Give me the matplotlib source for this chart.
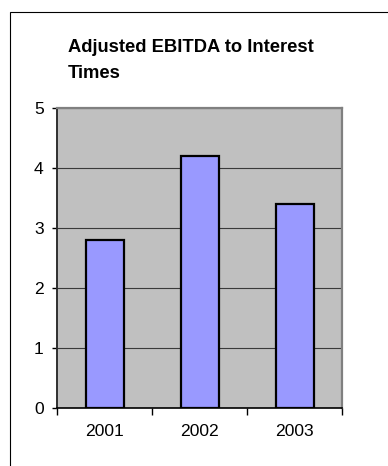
import matplotlib.pyplot as plt
from matplotlib.patches import Rectangle

### chart data
years = ['2001', '2002', '2003']
coverage = [2.8, 4.2, 3.4]
yticks = [0, 1, 2, 3, 4, 5]

plt.rcParams['font.family'] = ['Liberation Sans', 'DejaVu Sans']

fig = plt.figure(figsize=(3.88, 4.66), dpi=100)

### outer chart frame (runs off the right and bottom edge)
fig.patches.append(Rectangle((10/388, -0.05), 1.2, 1.05 - 11.5/466, transform=fig.transFigure,
                             facecolor='none', edgecolor='black', linewidth=0.8))

### title
fig.text(68/388, 1 - 38.5/466, 'Adjusted EBITDA to Interest\nTimes', ha='left', va='top',
         fontsize=13.2, fontweight='bold', linespacing=1.72)

### plot area
ax = fig.add_axes([57/388, 58/466, 285/388, 300/466])
ax.set_facecolor('#c0c0c0')
ax.bar(range(len(years)), coverage, width=0.4, color='#9999ff', edgecolor='black',
       linewidth=1.6, zorder=3)

ax.set_xlim(-0.5, len(years) - 0.5)
ax.set_ylim(0, 5)
ax.set_yticks(yticks)
ax.yaxis.grid(True, color='#3a3a3a', linewidth=0.8, zorder=1)
ax.set_axisbelow(True)

### category ticks sit between the bars, labels at the centres
ax.set_xticks([-0.5, 0.5, 1.5, 2.5])
ax.set_xticklabels([])
ax.set_xticks(range(len(years)), minor=True)
ax.set_xticklabels(years, minor=True)
ax.tick_params(axis='x', which='major', length=5, width=1, color='black')
ax.tick_params(axis='x', which='minor', length=0, pad=11.5, labelsize=12.6)
ax.tick_params(axis='y', length=3.6, width=1, pad=6, labelsize=12.6, color='black')

ax.spines['top'].set_color('#808080')
ax.spines['top'].set_linewidth(1.6)
ax.spines['right'].set_color('#808080')
ax.spines['right'].set_linewidth(1.6)
ax.spines['left'].set_color('#303030')
ax.spines['left'].set_linewidth(1.4)
ax.spines['bottom'].set_color('black')
ax.spines['bottom'].set_linewidth(1.2)

plt.savefig('out.png', dpi=100)
plt.close(fig)
